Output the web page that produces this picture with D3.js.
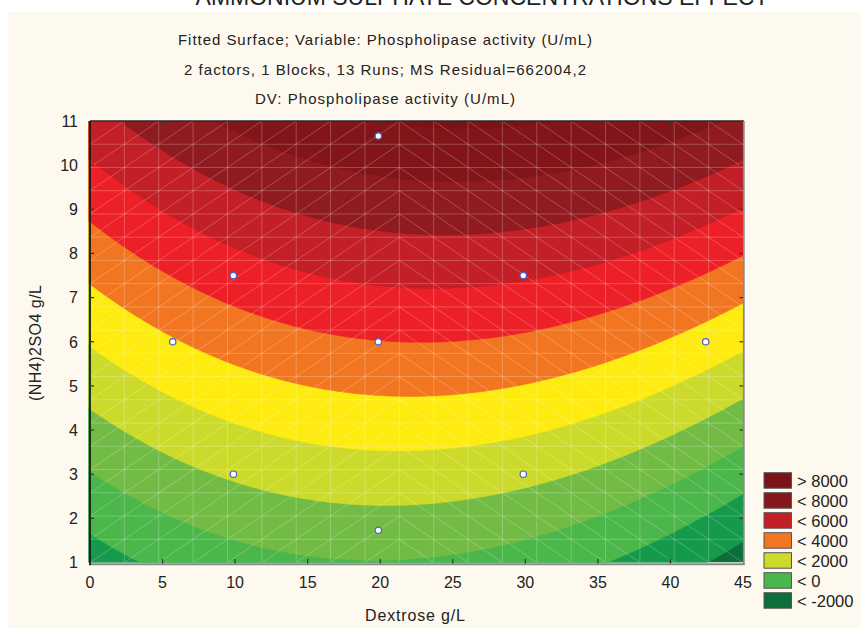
<!DOCTYPE html>
<html><head><meta charset="utf-8">
<script src="https://cdn.jsdelivr.net/npm/d3@7"></script>
<style>
body{margin:0;background:#fff;}
text{font-family:Arial,"Liberation Sans",sans-serif;fill:#222;}
</style>
</head><body>
<svg id="chart" width="861" height="628"></svg>
<script>
// ---------------- data ----------------
const title = "AMMONIUM SULPHATE CONCENTRATIONS EFFECT";
const subtitles = [
  "Fitted Surface; Variable: Phospholipase activity (U/mL)",
  "2 factors, 1 Blocks, 13 Runs; MS Residual=662004,2",
  "DV: Phospholipase activity (U/mL)"
];
const subtitleWidths = [414, 402, 260];
const xLabel = "Dextrose g/L";
const yLabel = "(NH4)2SO4 g/L";
const xTicks = [0,5,10,15,20,25,30,35,40,45];
const yTicks = [1,2,3,4,5,6,7,8,9,10,11];
// contour levels (U/mL)
const levels = [-2000,-1000,0,1000,2000,3000,4000,5000,6000,7000,8000];
// band colours, from below the lowest level to above the highest
const bandColors = ["#0c6e3a","#149a4a","#4bb64a","#72bc45","#ccdb2b","#feeb10",
                    "#f27621","#ed2027","#c21f27","#8f1a1f","#821519","#7a1317"];
const legendLabels = ["> 8000","< 8000","< 6000","< 4000","< 2000","< 0","< -2000"];
const legendColors = ["#7a1317","#85171c","#c21f27","#f27621","#ccdb2b","#4bb64a","#0c6e3a"];
// fitted quadratic surface coefficients: [b0, bX, bY, bXX, bYY, bXY]
const surfaceCoef = [-2163, 140.06, 707, -3.703, 0, 4.85];
// experimental runs (Dextrose, (NH4)2SO4)
const runsX = [19.87, 9.88, 29.86, 5.7, 19.87, 42.43, 9.88, 29.86, 19.87];
const runsY = [10.66, 7.5, 7.5, 6.0, 6.0, 6.0, 3.0, 3.0, 1.73];
const meshDiv = 19;

// ---------------- drawing ----------------
const svg = d3.select("#chart");
const W = 861, H = 628;
const plot = {l:90, r:743, t:121, b:562.5};
const x = d3.scaleLinear().domain([0,45]).range([plot.l, plot.r]);
const y = d3.scaleLinear().domain([1,11]).range([plot.b, plot.t]);

svg.append("rect").attr("x",0).attr("y",0).attr("width",W).attr("height",H).attr("fill","#fff");
svg.append("rect").attr("x",8).attr("y",12).attr("width",W-8).attr("height",H-12).attr("fill","#fef9ee");

svg.append("text").attr("x",482).attr("y",5).attr("text-anchor","middle")
  .style("font-size","23px").text(title);
subtitles.forEach((s,i)=>{
  svg.append("text").attr("x",385).attr("y",45+i*29.5).attr("text-anchor","middle")
    .attr("textLength",subtitleWidths[i]).attr("lengthAdjust","spacing")
    .style("font-size","15px").text(s);
});

const defs = svg.append("defs");
defs.append("clipPath").attr("id","pc").append("rect")
  .attr("x",plot.l-1.5).attr("y",plot.t).attr("width",plot.r-plot.l+1.5).attr("height",plot.b-plot.t);

const f = (xv,yv)=> surfaceCoef[0] + surfaceCoef[1]*xv + surfaceCoef[2]*yv +
  surfaceCoef[3]*xv*xv + surfaceCoef[4]*yv*yv + surfaceCoef[5]*xv*yv;

const nx = 226, ny = 151;
const x0 = 0, x1 = 45, y0 = 1, y1 = 11;
const sx = (x1-x0)/(nx-1), sy = (y1-y0)/(ny-1);
const values = new Array(nx*ny);
for (let j=0;j<ny;j++) for (let i=0;i<nx;i++) values[j*nx+i] = f(x0+i*sx, y0+j*sy);

const contours = d3.contours().size([nx,ny]).thresholds(levels)(values);
const proj = d3.geoTransform({point(px,py){
  this.stream.point(x(x0+(px-0.5)*sx), y(y0+(py-0.5)*sy));
}});
const path = d3.geoPath(proj);

const g = svg.append("g").attr("clip-path","url(#pc)");
g.append("rect").attr("x",plot.l-2).attr("y",plot.t).attr("width",plot.r-plot.l+2)
  .attr("height",plot.b-plot.t).attr("fill",bandColors[0]);
g.selectAll("path.band").data(contours).join("path").attr("class","band")
  .attr("d",path).attr("fill",(d,i)=>bandColors[i+1])
  .attr("stroke",(d,i)=>bandColors[i+1]).attr("stroke-width",0.5);

// mesh
const mesh = g.append("g").attr("stroke","rgba(255,255,255,0.26)").attr("stroke-width",0.9).attr("fill","none");
const xs = d3.range(meshDiv+1).map(k=>x0+(x1-x0)*k/meshDiv);
const ys = d3.range(meshDiv+1).map(k=>y0+(y1-y0)*k/meshDiv);
xs.slice(1,-1).forEach(v=>mesh.append("line").attr("x1",x(v)).attr("x2",x(v)).attr("y1",plot.t).attr("y2",plot.b));
ys.slice(1,-1).forEach(v=>mesh.append("line").attr("y1",y(v)).attr("y2",y(v)).attr("x1",plot.l).attr("x2",plot.r));
for (let i=0;i<meshDiv;i++) for (let j=0;j<meshDiv;j++){
  const up = i < meshDiv/2 - 0.5;
  mesh.append("line")
    .attr("x1",x(xs[i])).attr("x2",x(xs[i+1]))
    .attr("y1",y(up?ys[j]:ys[j+1])).attr("y2",y(up?ys[j+1]:ys[j]));
}

// frame
svg.append("line").attr("x1",plot.l).attr("x2",plot.r+1).attr("y1",plot.t).attr("y2",plot.t).attr("stroke","#2a2a2a").attr("stroke-width",1.6);
svg.append("line").attr("x1",plot.r+0.8).attr("x2",plot.r+0.8).attr("y1",plot.t).attr("y2",plot.b+2.5).attr("stroke","#8a8a8a").attr("stroke-width",1.8);
svg.append("line").attr("x1",plot.l).attr("x2",plot.r+1.5).attr("y1",plot.b+1.8).attr("y2",plot.b+1.8).attr("stroke","#8a8a8a").attr("stroke-width",2);
svg.append("line").attr("x1",plot.l).attr("x2",plot.l).attr("y1",plot.t).attr("y2",plot.b+2.8).attr("stroke","#1a1a1a").attr("stroke-width",1.8);

// ticks (inward on all sides)
const tk = svg.append("g").attr("stroke","#333").attr("stroke-width",1.2);
xTicks.slice(1,-1).forEach(v=>{
  tk.append("line").attr("x1",x(v)).attr("x2",x(v)).attr("y1",plot.t).attr("y2",plot.t+4);
  tk.append("line").attr("x1",x(v)).attr("x2",x(v)).attr("y1",plot.b+1).attr("y2",plot.b-3.5);
});
yTicks.slice(1,-1).forEach(v=>{
  tk.append("line").attr("x1",plot.l).attr("x2",plot.l+4).attr("y1",y(v)).attr("y2",y(v));
  tk.append("line").attr("x1",plot.r).attr("x2",plot.r-3.5).attr("y1",y(v)).attr("y2",y(v));
});

// tick labels
svg.append("g").selectAll("text").data(xTicks).join("text")
  .attr("x",d=>x(d)).attr("y",588).attr("text-anchor","middle").style("font-size","16px").text(d=>d);
svg.append("g").selectAll("text").data(yTicks).join("text")
  .attr("x",78).attr("y",d=>y(d)).attr("dy","0.36em").attr("text-anchor","end").style("font-size","16px").text(d=>d);

// axis titles
svg.append("text").attr("x",415).attr("y",621).attr("text-anchor","middle")
  .attr("textLength",100).attr("lengthAdjust","spacing").style("font-size","16px").text(xLabel);
svg.append("text").attr("transform","translate(41,343) rotate(-90)").attr("text-anchor","middle")
  .attr("textLength",116).attr("lengthAdjust","spacing").style("font-size","16px").text(yLabel);

// runs
svg.append("g").selectAll("circle").data(runsX).join("circle")
  .attr("cx",d=>x(d)).attr("cy",(d,i)=>y(runsY[i])).attr("r",3.2)
  .attr("fill","#fff").attr("stroke","#4a62c4").attr("stroke-width",1.2);

// legend
const lg = svg.append("g");
legendLabels.forEach((lab,i)=>{
  const yy = 472.7 + i*20;
  lg.append("rect").attr("x",764).attr("y",yy).attr("width",27.5).attr("height",15.5)
    .attr("fill",legendColors[i]).attr("stroke","#555").attr("stroke-width",1);
  lg.append("text").attr("x",797).attr("y",yy+8).attr("dy","0.36em").style("font-size","16.5px").text(lab);
});
</script>
</body></html>
